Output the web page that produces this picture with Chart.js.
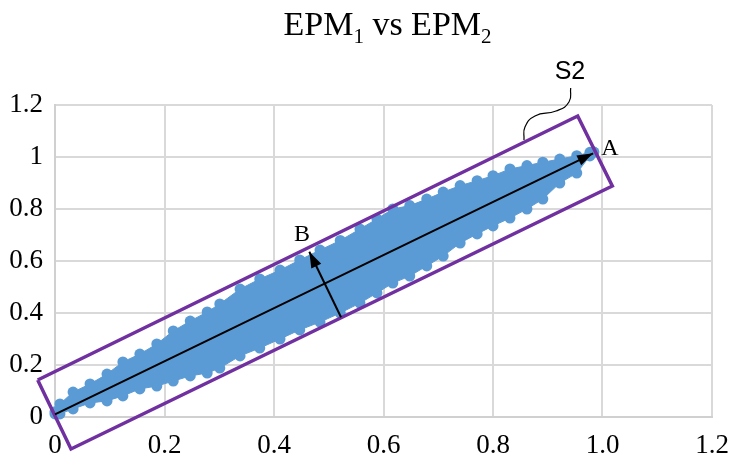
<!DOCTYPE html>
<html>
<head>
<meta charset="utf-8">
<script src="https://cdn.jsdelivr.net/npm/chart.js@4.4.1/dist/chart.umd.min.js"></script>
<style>
	html, body { margin: 0; padding: 0; background: #fff; }
</style>
</head>
<body>
<canvas id="epmChart" width="734" height="465"></canvas>
<script>
let xTickLabels = ["0", "0.2", "0.4", "0.6", "0.8", "1.0", "1.2"];
let yTickLabels = ["0", "0.2", "0.4", "0.6", "0.8", "1", "1.2"];

// outline of the EPM1/EPM2 point cloud
let upperX = [0.000, 0.009, 0.033, 0.064, 0.095, 0.124, 0.155, 0.186, 0.216, 0.247, 0.278, 0.301, 0.338, 0.374, 0.411, 0.447, 0.484, 0.521, 0.557, 0.588, 0.617, 0.648, 0.679, 0.709, 0.740, 0.771, 0.800, 0.831, 0.862, 0.891, 0.922, 0.953, 0.977, 0.984];
let upperY = [0.020, 0.050, 0.096, 0.127, 0.165, 0.212, 0.242, 0.281, 0.331, 0.369, 0.404, 0.435, 0.492, 0.531, 0.565, 0.604, 0.642, 0.679, 0.723, 0.762, 0.800, 0.813, 0.838, 0.865, 0.890, 0.909, 0.928, 0.954, 0.967, 0.980, 0.992, 1.005, 1.018, 1.019];
let lowerX = [0.000, 0.009, 0.033, 0.064, 0.095, 0.124, 0.155, 0.186, 0.216, 0.247, 0.278, 0.301, 0.338, 0.374, 0.411, 0.447, 0.484, 0.521, 0.557, 0.588, 0.617, 0.648, 0.679, 0.709, 0.740, 0.771, 0.800, 0.831, 0.862, 0.891, 0.922, 0.953, 0.977, 0.984];
let lowerY = [0.012, 0.012, 0.031, 0.054, 0.062, 0.081, 0.108, 0.119, 0.138, 0.158, 0.169, 0.188, 0.235, 0.265, 0.300, 0.335, 0.365, 0.400, 0.438, 0.477, 0.515, 0.542, 0.581, 0.619, 0.669, 0.704, 0.735, 0.765, 0.800, 0.838, 0.900, 0.938, 1.004, 1.019];

// S2 box, principal axis A and normal B, leader line to the S2 tag
let boxX = [-0.0316, 0.9547, 1.0179, 0.0292, -0.0316];
let boxY = [0.1423, 1.1577, 0.8885, -0.123, 0.1423];
let arrowAX = [0.000, 0.983];
let arrowAY = [0.010, 1.014];
let arrowBX = [0.5224, 0.4645];
let arrowBY = [0.3835, 0.6358];
let leaderX = [0.9419, 0.9388, 0.9151, 0.8767, 0.8584, 0.8566];
let leaderY = [1.2654, 1.2115, 1.1769, 1.1577, 1.1154, 1.0654];

let labelTexts = ["A", "B", "S2"];
let labelX = [1.0137, 0.4511, 0.9406];
let labelY = [1.031, 0.701, 1.327];
let labelFonts = ["24px 'Liberation Serif'", "24px 'Liberation Serif'", "25px 'Liberation Sans'"];

// title pieces: [text, subscript?]
let titleParts = [["EPM", false], ["1", true], [" vs EPM", false], ["2", true]];

let toPoints = function (xs, ys) {
	return xs.map(function (x, i) { return { x: x, y: ys[i] }; });
};

let overlayPlugin = {
	id: "overlay",
	afterDatasetsDraw: function (chart) {
		let ctx = chart.ctx;
		chart.data.datasets.forEach(function (ds, i) {
			if (!ds.arrowHead) return;
			let pts = chart.getDatasetMeta(i).data;
			let a = pts[pts.length - 2], b = pts[pts.length - 1];
			let ang = Math.atan2(b.y - a.y, b.x - a.x);
			let len = 16, half = 5.5;
			let bx = b.x - len * Math.cos(ang), by = b.y - len * Math.sin(ang);
			ctx.save();
			ctx.fillStyle = "#000";
			ctx.beginPath();
			ctx.moveTo(b.x, b.y);
			ctx.lineTo(bx + half * Math.sin(ang), by - half * Math.cos(ang));
			ctx.lineTo(bx - half * Math.sin(ang), by + half * Math.cos(ang));
			ctx.closePath();
			ctx.fill();
			ctx.restore();
		});
		let xs = chart.scales.x, ys = chart.scales.y;
		ctx.save();
		ctx.fillStyle = "#000";
		ctx.textAlign = "center";
		ctx.textBaseline = "middle";
		labelTexts.forEach(function (t, i) {
			ctx.font = labelFonts[i];
			ctx.fillText(t, xs.getPixelForValue(labelX[i]), ys.getPixelForValue(labelY[i]));
		});

		// title with real subscripts, centred over the plot area
		let mainFont = "34px 'Liberation Serif'", subFont = "21px 'Liberation Serif'";
		let total = 0;
		titleParts.forEach(function (p) {
			ctx.font = p[1] ? subFont : mainFont;
			total += ctx.measureText(p[0]).width;
		});
		let cx = (chart.chartArea.left + chart.chartArea.right) / 2 + 4;
		let tx = cx - total / 2;
		ctx.textAlign = "left";
		ctx.textBaseline = "alphabetic";
		titleParts.forEach(function (p) {
			ctx.font = p[1] ? subFont : mainFont;
			ctx.fillText(p[0], tx, p[1] ? 43 : 35);
			tx += ctx.measureText(p[0]).width;
		});
		ctx.restore();
	}
};

let blue = "#5b9bd5";
let purple = "#7030a0";

let chart = new Chart("epmChart", {
	type: "line",
	data: {
		datasets: [{
			data: toPoints(arrowAX, arrowAY),
			borderColor: "#000",
			borderWidth: 2,
			pointRadius: 0,
			arrowHead: true,
			clip: false,
			order: 0
		}, {
			data: toPoints(arrowBX, arrowBY),
			borderColor: "#000",
			borderWidth: 2,
			pointRadius: 0,
			arrowHead: true,
			clip: false,
			order: 0
		}, {
			data: toPoints(leaderX, leaderY),
			borderColor: "#000",
			borderWidth: 1.2,
			pointRadius: 0,
			tension: 0.5,
			clip: false,
			order: 0
		}, {
			data: toPoints(boxX, boxY),
			borderColor: purple,
			borderWidth: 3.5,
			borderJoinStyle: "miter",
			pointRadius: 0,
			clip: false,
			order: 1
		}, {
			data: toPoints(upperX, upperY),
			borderColor: blue,
			borderWidth: 1,
			backgroundColor: blue,
			fill: "+1",
			pointRadius: 0,
			clip: false,
			order: 3
		}, {
			data: toPoints(lowerX, lowerY),
			borderColor: blue,
			borderWidth: 1,
			pointRadius: 0,
			fill: false,
			clip: false,
			order: 3
		}, {
			data: toPoints(upperX, upperY).concat(toPoints(lowerX, lowerY)),
			showLine: false,
			pointRadius: 5.5,
			pointBorderWidth: 0,
			pointBackgroundColor: blue,
			clip: false,
			order: 2
		}]
	},
	options: {
		responsive: false,
		animation: false,
		events: [],
		layout: { padding: { left: 0, right: 22, top: 105, bottom: 0 } },
		plugins: {
			legend: { display: false },
			tooltip: { enabled: false },
			title: { display: false }
		},
		scales: {
			x: {
				type: "linear",
				min: 0,
				max: 1.2,
				afterFit: function (scale) {
					scale.height = 48;
					scale.paddingRight = 0;
					scale.paddingLeft = 0;
				},
				grid: { color: "#d9d9d9", lineWidth: 2, drawTicks: false },
				border: { color: "#d0d0d0", width: 2 },
				ticks: {
					stepSize: 0.2,
					padding: 13,
					color: "#000",
					font: { family: "'Liberation Serif'", size: 27 },
					callback: function (value, index) { return xTickLabels[index]; }
				}
			},
			y: {
				min: 0,
				max: 1.2,
				afterFit: function (scale) { scale.width = 55; },
				grid: { color: "#d9d9d9", lineWidth: 2, drawTicks: false },
				border: { color: "#d0d0d0", width: 2 },
				ticks: {
					stepSize: 0.2,
					padding: 12,
					color: "#000",
					font: { family: "'Liberation Serif'", size: 27 },
					callback: function (value, index) { return yTickLabels[index]; }
				}
			}
		}
	},
	plugins: [overlayPlugin]
});
</script>
</body>
</html>
